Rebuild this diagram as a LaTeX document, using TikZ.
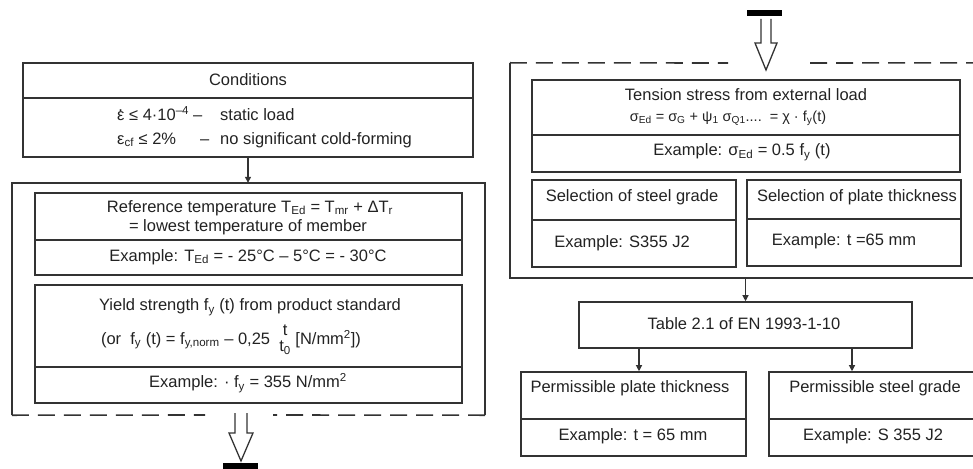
\documentclass[tikz,border=0pt]{standalone}
\usepackage{fontspec}
\setmainfont{Liberation Sans}
\usetikzlibrary{arrows.meta,calc}
\definecolor{ln}{HTML}{333333}
\definecolor{tx}{HTML}{222222}
\begin{document}
\begin{tikzpicture}[x=1pt,y=-1pt,
  box/.style={draw=ln,line width=1.6pt,rectangle,inner sep=0pt},
  txt/.style={inner sep=0pt,text=tx,font=\fontsize{16.5}{19}\selectfont},
  small/.style={inner sep=0pt,text=tx,font=\fontsize{14.5}{17}\selectfont},
  divl/.style={draw=ln,line width=1.6pt},
  arr/.style={draw=ln,line width=1.2pt,-{Triangle[length=6pt,width=6pt]}},
  dsh/.style={draw=ln,line width=1.6pt,dash pattern=on 17pt off 9pt},
  hollow/.style={draw=ln,line width=1.3pt,fill=white,line join=miter}]
\useasboundingbox (0,0) rectangle (973,468);
\clip (0,0) rectangle (973,468);

% ---------------- left column ----------------
\node[box,minimum width=450pt,minimum height=94pt] (cond) at (248,110) {};
\draw[divl] (cond.west |- 0,98) -- (cond.east |- 0,98);
\node[txt] (condt) at (248,80) {Conditions};
\node[txt,anchor=base west] (c1a) at (117,121) {ε\llap{\raisebox{0.6em}{.}\kern0.1em} ≤ 4·10\textsuperscript{–4}};
\node[txt,anchor=base west] (c1b) at (193,121) {–};
\node[txt,anchor=base west] (c1c) at (220,121) {static load};
\node[txt,anchor=base west] (c2a) at (117,144) {ε\textsubscript{cf} ≤ 2\%};
\node[txt,anchor=base west] (c2b) at (200,144) {–};
\node[txt,anchor=base west] (c2c) at (220,144) {no significant cold-forming};

% outer left (solid top and sides, dashed bottom)
\node[inner sep=0pt,minimum width=473pt,minimum height=232pt] (outL) at (248.5,299) {};
\coordinate (gapL1) at (205,415);
\coordinate (gapL2) at (273,415);
\draw[divl] (outL.south west) -- (outL.north west) -- (outL.north east) -- (outL.south east);
\draw[dsh] (outL.south west) -- (gapL1);
\draw[dsh] (outL.south east) -- (gapL2);

\draw[arr] (cond.south) -- (outL.north -| cond.south);

\node[box,minimum width=427pt,minimum height=82pt] (ref) at (248.5,234) {};
\draw[divl] (ref.west |- 0,240) -- (ref.east |- 0,240);
\node[txt] (ref1) at (250,208) {Reference temperature T\textsubscript{Ed} = T\textsubscript{mr} + ΔT\textsubscript{r}};
\node[txt] (ref2) at (248,227) {= lowest temperature of member};
\node[txt] (ref3) at (248,257) {Example: T\textsubscript{Ed} = - 25°C – 5°C = - 30°C};

\node[box,minimum width=427pt,minimum height=118pt] (yld) at (248.5,344) {};
\draw[divl] (yld.west |- 0,367) -- (yld.east |- 0,367);
\node[txt] (y1) at (250,307) {Yield strength f\textsubscript{y} (t) from product standard};
\node[txt] (y2) at (231,340) {(or\ \ f\textsubscript{y} (t) = f\textsubscript{y,norm} – 0,25\ \ \begin{tabular}[c]{@{}c@{}}t\\[-3pt]t\textsubscript{0}\end{tabular} [N/mm\textsuperscript{2}])};
\node[txt] (y3) at (248,383) {Example: · f\textsubscript{y} = 355 N/mm\textsuperscript{2}};

% hollow arrow and bar, left bottom
\draw[hollow] (235,413) -- (235,433) -- (229,433) -- (241,461) -- (253,433) -- (247,433) -- (247,413);
\fill[black] (223,463) rectangle (258,469);

% ---------------- right column ----------------
\fill[black] (747,10) rectangle (782,16);
\draw[hollow] (761,19) -- (761,43) -- (755,43) -- (766,70) -- (777,43) -- (771,43) -- (771,19);

\node[inner sep=0pt,minimum width=480pt,minimum height=215pt] (outR) at (750,170.5) {};
\coordinate (gapR1) at (728,63);
\coordinate (gapR2) at (810,63);
\draw[divl] (outR.north west) -- (outR.south west) -- (outR.south east);
\draw[dsh] (outR.north west) -- (gapR1);
\draw[dsh] (gapR2) -- (outR.north east);

\node[box,minimum width=428pt,minimum height=92pt] (ten) at (746,126) {};
\draw[divl] (ten.west |- 0,135) -- (ten.east |- 0,135);
\node[txt] (t1) at (746,95) {Tension stress from external load};
\node[small] (t2) at (728,118) {σ\textsubscript{Ed} = σ\textsubscript{G} + ψ\textsubscript{1} σ\textsubscript{Q1}....\ \ = χ · f\textsubscript{y}(t)};
\node[txt] (t3) at (742,152) {Example: σ\textsubscript{Ed} = 0.5 f\textsubscript{y} (t)};

\node[box,minimum width=204pt,minimum height=87pt] (selA) at (634,223.5) {};
\draw[divl] (selA.west |- 0,220) -- (selA.east |- 0,220);
\node[txt] (sa1) at (632,197) {Selection of steel grade};
\node[txt] (sa2) at (622,243) {Example: S355 J2};

\node[box,minimum width=214pt,minimum height=86pt] (selB) at (854,223) {};
\draw[divl] (selB.west |- 0,219) -- (selB.east |- 0,219);
\node[txt] (sb1) at (857,197) {Selection of plate thickness};
\node[txt] (sb2) at (844,241) {Example: t =65 mm};

\node[box,minimum width=333pt,minimum height=46pt] (tab) at (745.5,325) {};
\node[txt] (tabt) at (744,324) {Table 2.1 of EN 1993-1-10};
\draw[arr] (outR.south -| tab.north) -- (tab.north);

\node[box,minimum width=225pt,minimum height=84pt] (pA) at (633.5,414) {};
\draw[divl] (pA.west |- 0,419) -- (pA.east |- 0,419);
\node[txt] (pa1) at (630,388) {Permissible plate thickness};
\node[txt] (pa2) at (633,436) {Example: t = 65 mm};

\node[box,minimum width=212pt,minimum height=84pt] (pB) at (875,414) {};
\draw[divl] (pB.west |- 0,419) -- (pB.east |- 0,419);
\node[txt] (pb1) at (875,388) {Permissible steel grade};
\node[txt] (pb2) at (873,436) {Example: S 355 J2};

\draw[arr] ([xshift=5.5pt]pA.north |- tab.south) -- ([xshift=5.5pt]pA.north);
\draw[arr] ([xshift=-23pt]pB.north |- tab.south) -- ([xshift=-23pt]pB.north);
\end{tikzpicture}
\end{document}
